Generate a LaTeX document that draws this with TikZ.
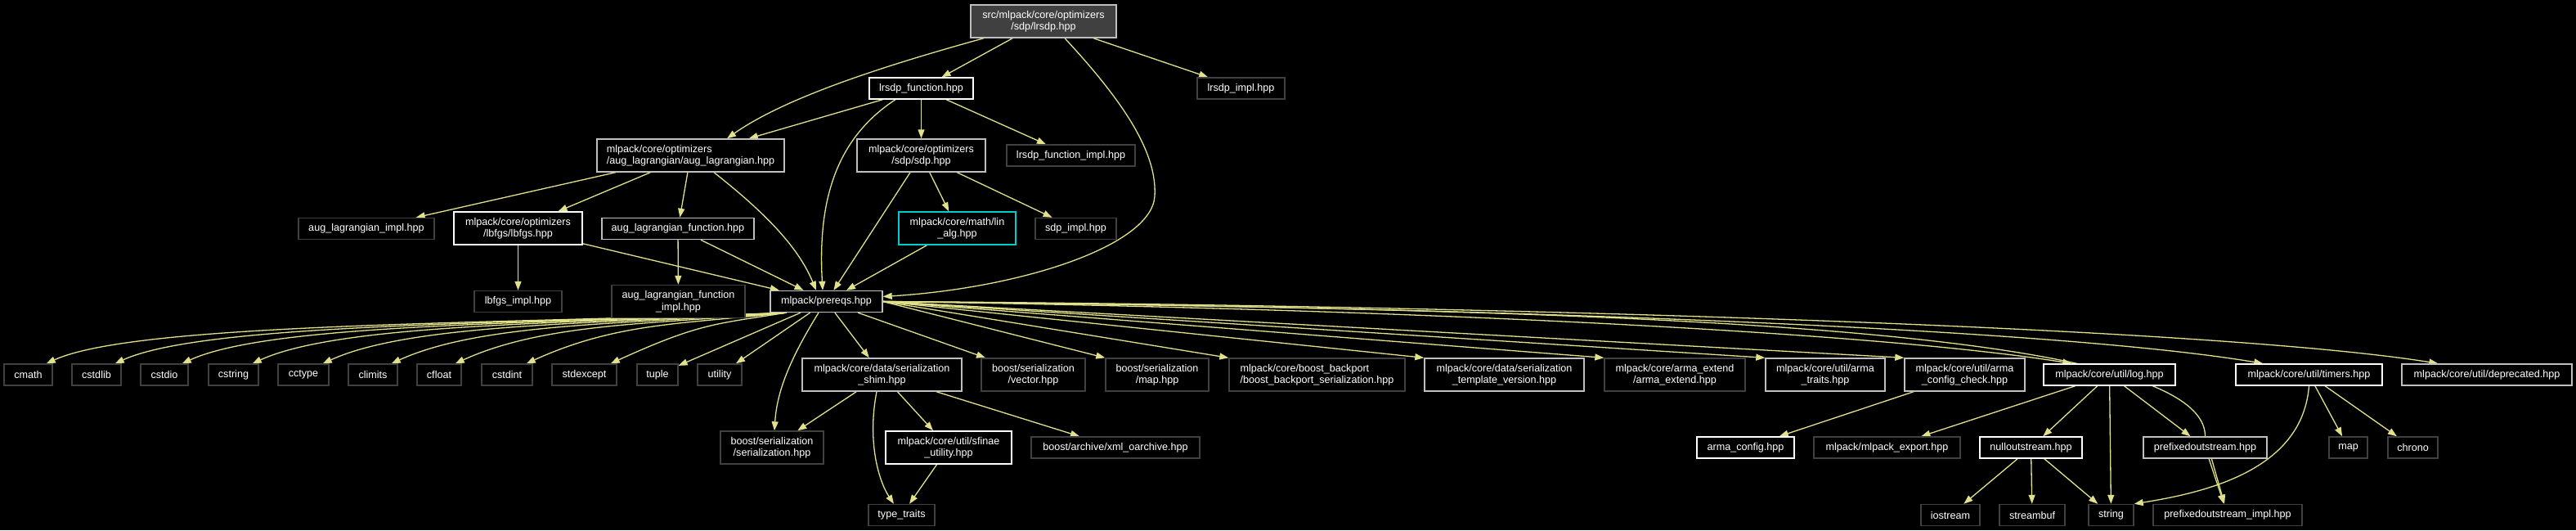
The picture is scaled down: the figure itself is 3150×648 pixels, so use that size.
\documentclass[tikz,border=0pt]{standalone}
\usepackage{fontspec}
\setmainfont{Liberation Sans}
\usetikzlibrary{arrows.meta,backgrounds}
\definecolor{edgeyel}{RGB}{225,225,140}
\definecolor{leafgray}{RGB}{64,64,64}
\definecolor{midgray}{RGB}{191,191,191}
\definecolor{rootfill}{RGB}{64,64,64}
\definecolor{linkcyan}{RGB}{0,204,204}
\tikzset{file/.style={draw,line width=1.4pt,fill=black,text=white,align=center,inner sep=3pt,
    minimum height=26pt,font=\fontsize{12.6}{14.5}\selectfont},
  leaf/.style={file,draw=leafgray},
  mid/.style={file,draw=midgray},
  bright/.style={file,draw=white},
  root/.style={file,draw=midgray,fill=rootfill},
  linked/.style={file,draw=linkcyan},
  tall/.style={minimum height=40pt},
  dep/.style={-{Triangle[length=11pt,width=8pt]},line width=1.3pt,draw=edgeyel}}

\begin{document}
\begin{tikzpicture}[x=1pt,y=-1pt]
\useasboundingbox (0,0) rectangle (3150,648);
% optimizers part
\node[root,tall,minimum width=178pt] (lrsdp) at (1276,26) {src/mlpack/core/optimizers\\/sdp/lrsdp.hpp};
\node[bright,minimum width=127pt] (lrsdpfn) at (1126.5,108) {lrsdp\_function.hpp};
\node[leaf,minimum width=107pt] (lrsdpimpl) at (1517.5,108) {lrsdp\_impl.hpp};
\node[mid,tall,minimum width=229pt,align=left] (auglag) at (844.5,190) {mlpack/core/optimizers\\/aug\_lagrangian/aug\_lagrangian.hpp};
\node[mid,tall,minimum width=157pt] (sdp) at (1126.5,190) {mlpack/core/optimizers\\/sdp/sdp.hpp};
\node[leaf,minimum width=157pt] (lrsdpfnimpl) at (1309.5,190) {lrsdp\_function\_impl.hpp};
\node[leaf,minimum width=166pt] (auglagimpl) at (448,279.5) {aug\_lagrangian\_impl.hpp};
\node[bright,tall,minimum width=157pt] (lbfgs) at (633.5,279) {mlpack/core/optimizers\\/lbfgs/lbfgs.hpp};
\node[mid,minimum width=186pt] (auglagfn) at (829,279.5) {aug\_lagrangian\_function.hpp};
\node[linked,tall,minimum width=143pt] (linalg) at (1170.5,279) {mlpack/core/math/lin\\\_alg.hpp};
\node[leaf,minimum width=99pt] (sdpimpl) at (1315.5,279.5) {sdp\_impl.hpp};
\node[leaf,minimum width=107pt] (lbfgsimpl) at (633.5,368.5) {lbfgs\_impl.hpp};
\node[leaf,tall,minimum width=163pt] (auglagfnimpl) at (829.5,368.5) {aug\_lagrangian\_function\\\_impl.hpp};
\node[mid,minimum width=137pt] (prereqs) at (1010.5,368.5) {mlpack/prereqs.hpp};
% standard headers
\node[leaf,minimum width=59pt] (cmath) at (34.5,458) {cmath};
\node[leaf,minimum width=60pt] (cstdlib) at (118,458) {cstdlib};
\node[leaf,minimum width=58pt] (cstdio) at (201,458) {cstdio};
\node[leaf,minimum width=61pt] (cstring) at (285.5,458) {cstring};
\node[leaf,minimum width=62pt] (cctype) at (371,458) {cctype};
\node[leaf,minimum width=60pt] (climits) at (456,458) {climits};
\node[leaf,minimum width=54pt] (cfloat) at (537,458) {cfloat};
\node[leaf,minimum width=62pt] (cstdint) at (620,458) {cstdint};
\node[leaf,minimum width=79pt] (stdexcept) at (714.5,458) {stdexcept};
\node[leaf,minimum width=50pt] (tuple) at (804,458) {tuple};
\node[leaf,minimum width=54pt] (utility) at (880,458) {utility};
% serialization and util
\node[mid,tall,minimum width=195pt] (shim) at (1078.5,458) {mlpack/core/data/serialization\\\_shim.hpp};
\node[leaf,tall,minimum width=127pt] (vector) at (1263.5,458) {boost/serialization\\/vector.hpp};
\node[leaf,tall,minimum width=126pt] (bmap) at (1415,458) {boost/serialization\\/map.hpp};
\node[leaf,tall,minimum width=215pt,align=left] (backport) at (1610.5,458) {mlpack/core/boost\_backport\\/boost\_backport\_serialization.hpp};
\node[mid,tall,minimum width=195pt] (templver) at (1839.5,458) {mlpack/core/data/serialization\\\_template\_version.hpp};
\node[leaf,tall,minimum width=172pt] (armaext) at (2048,458) {mlpack/core/arma\_extend\\/arma\_extend.hpp};
\node[mid,tall,minimum width=146pt] (armatraits) at (2232,458) {mlpack/core/util/arma\\\_traits.hpp};
\node[mid,tall,minimum width=147pt] (armacc) at (2402.5,458) {mlpack/core/util/arma\\\_config\_check.hpp};
\node[bright,minimum width=161pt] (log) at (2579.5,458) {mlpack/core/util/log.hpp};
\node[bright,minimum width=179pt] (timers) at (2823.5,458) {mlpack/core/util/timers.hpp};
\node[mid,minimum width=208pt] (deprecated) at (3041,458) {mlpack/core/util/deprecated.hpp};
\node[leaf,tall,minimum width=126pt] (sertion) at (944,547) {boost/serialization\\/serialization.hpp};
\node[bright,tall,minimum width=154pt] (sfinae) at (1160,547) {mlpack/core/util/sfinae\\\_utility.hpp};
\node[leaf,minimum width=206pt] (xml) at (1364,547) {boost/archive/xml\_oarchive.hpp};
\node[bright,minimum width=119pt] (armaconfig) at (2134.5,547) {arma\_config.hpp};
\node[leaf,minimum width=179pt] (mlexport) at (2307.5,547) {mlpack/mlpack\_export.hpp};
\node[bright,minimum width=125pt] (nullos) at (2483.5,547) {nulloutstream.hpp};
\node[mid,minimum width=151pt] (prefos) at (2696.5,547) {prefixedoutstream.hpp};
\node[leaf,minimum width=47pt] (stdmap) at (2871.5,547) {map};
\node[leaf,minimum width=61pt] (chrono) at (2950.5,547) {chrono};
\node[leaf,minimum width=81pt] (typetraits) at (1102.5,629.5) {type\_traits};
\node[leaf,minimum width=72pt] (iostream) at (2385,629.5) {iostream};
\node[leaf,minimum width=80pt] (streambuf) at (2485,629.5) {streambuf};
\node[leaf,minimum width=55pt] (string) at (2581.5,629.5) {string};
\node[leaf,minimum width=182pt] (prefosimpl) at (2724,629.5) {prefixedoutstream\_impl.hpp};

\begin{scope}[on background layer]
\fill[black] (0,0) rectangle (3150,648);
% upper edges
\draw[dep] ([xshift=-73pt]lrsdp.south) .. controls +(-123,34) and +(71,-50) .. ([xshift=44.5pt]auglag.north);
\draw[dep] (lrsdp) -- (lrsdpfn);
\draw[dep] ([xshift=26pt]lrsdp.south) .. controls +(78,84) and (1415,190) .. (1412,240)
  .. controls (1408,300) and (1250,352) .. ([yshift=6pt]prereqs.east);
\draw[dep] (lrsdp) -- (lrsdpimpl);
\draw[dep] (lrsdpfn) -- (auglag);
\draw[dep] ([xshift=-31.5pt]lrsdpfn.south) .. controls +(-75,49) and +(-6,-106) .. ([xshift=-4.5pt]prereqs.north);
\draw[dep] (lrsdpfn) -- (sdp);
\draw[dep] (lrsdpfn) -- (lrsdpfnimpl);
\draw[dep] (auglag) -- (auglagimpl);
\draw[dep] (auglag) -- (lbfgs);
\draw[dep] (auglag) -- (auglagfn);
\draw[dep] ([xshift=28.5pt]auglag.south) .. controls +(57,45) and +(-23,-56) .. ([xshift=-12.5pt]prereqs.north);
\draw[dep] (sdp) -- (prereqs);
\draw[dep] (sdp) -- (linalg);
\draw[dep] (sdp) -- (sdpimpl);
\draw[dep] (lbfgs) -- (lbfgsimpl);
\draw[dep] (lbfgs) -- (prereqs);
\draw[dep] (auglagfn) -- (auglagfnimpl);
\draw[dep] (auglagfn) -- (prereqs);
\draw[dep] (linalg) -- (prereqs);
% prereqs fan
\foreach \t/\d in {cmath/362,cstdlib/329,cstdio/296,cstring/262,cctype/227,climits/194,cfloat/161,cstdint/128,stdexcept/86}
  \draw[dep] ([xshift=20pt]prereqs.south west) .. controls +(-\d,14) and +(110,-50) .. ([xshift=-8pt]\t.north east);
\draw[dep] (prereqs) -- (tuple);
\draw[dep] (prereqs) -- (utility);
\draw[dep] (prereqs) -- (shim);
\draw[dep] ([xshift=-9.5pt]prereqs.south) .. controls +(-36,58) and +(3,-47) .. ([xshift=3pt]sertion.north);
\draw[dep] (prereqs) -- (vector);
\foreach \t in {bmap,backport,templver,armaext,armatraits,armacc}
  \draw[dep] (prereqs.east) -- (\t.north west);
\draw[dep] (prereqs.east) .. controls +(600,8) and +(-250,-40) .. ([xshift=35pt]log.north west);
\draw[dep] (prereqs.east) .. controls +(700,6) and +(-270,-45) .. ([xshift=34pt]timers.north west);
\draw[dep] (prereqs.east) .. controls +(720,4) and +(-280,-45) .. ([xshift=45pt]deprecated.north west);
\draw[dep] (prereqs.east) .. controls +(850,10) and +(0,-140) .. (prefos.north) -- (prefosimpl);
% lower edges
\draw[dep] (shim) -- (sertion);
\draw[dep] ([xshift=-6.5pt]shim.south) .. controls +(-12,62) and +(-18,-27) .. ([xshift=-9.5pt]typetraits.north);
\draw[dep] (shim) -- (sfinae);
\draw[dep] (shim) -- (xml);
\draw[dep] (sfinae) -- (typetraits);
\draw[dep] (armacc) -- (armaconfig);
\draw[dep] (log) -- (mlexport);
\draw[dep] (log) -- (nullos);
\draw[dep] (log) -- (string);
\draw[dep] (log) -- (prefos);
\draw[dep] (nullos) -- (iostream);
\draw[dep] (nullos) -- (streambuf);
\draw[dep] (nullos) -- (string);
\draw[dep] (prefos) -- (prefosimpl);
\draw[dep] (timers.south) .. controls +(-8,100) and +(95,-15) .. (string.north east);
\draw[dep] (timers) -- (stdmap);
\draw[dep] (timers) -- (chrono);
\end{scope}
\end{tikzpicture}
\end{document}
